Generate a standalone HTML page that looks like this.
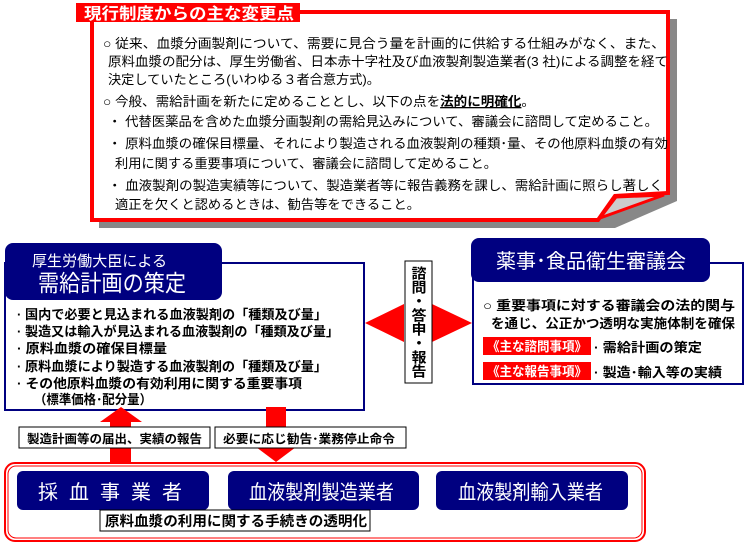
<!DOCTYPE html>
<html><head><meta charset="utf-8"><style>
body{margin:0;background:#fff}
svg text{font-family:"Liberation Sans","Noto Sans CJK JP",sans-serif}
</style></head><body>
<svg width="745" height="546" viewBox="0 0 745 546" xmlns="http://www.w3.org/2000/svg">
<polygon points="99,19 677,19 677,201 615,228 99,228" fill="#888"/>
<polygon points="92,12 668,12 668,193 615,196 598,220 92,220" fill="#fff" stroke="#f00" stroke-width="4"/>
<polygon points="600,218 616,197 664,195" fill="#ccc" stroke="#f00" stroke-width="3"/>
<rect x="76" y="3" width="224" height="19" fill="#f00"/>
<text x="84" y="19" font-size="16" font-weight="bold" fill="#fff" textLength="210" lengthAdjust="spacingAndGlyphs">現行制度からの主な変更点</text>
<g font-size="13" fill="#000">
<text x="103" y="48" textLength="562" lengthAdjust="spacingAndGlyphs">○ 従来、血漿分画製剤について、需要に見合う量を計画的に供給する仕組みがなく、また、</text>
<text x="108" y="66" textLength="560" lengthAdjust="spacingAndGlyphs">原料血漿の配分は、厚生労働省、日本赤十字社及び血液製剤製造業者(3 社)による調整を経て</text>
<text x="108" y="84" textLength="272" lengthAdjust="spacingAndGlyphs">決定していたところ(いわゆる３者合意方式)。</text>
<text x="103" y="106" textLength="432" lengthAdjust="spacingAndGlyphs">○ 今般、需給計画を新たに定めることとし、以下の点を<tspan font-weight="bold" text-decoration="underline">法的に明確化</tspan>。</text>
<text x="108" y="126" textLength="550" lengthAdjust="spacingAndGlyphs">・ 代替医薬品を含めた血漿分画製剤の需給見込みについて、審議会に諮問して定めること。</text>
<text x="108" y="148" textLength="560" lengthAdjust="spacingAndGlyphs">・ 原料血漿の確保目標量、それにより製造される血液製剤の種類･量、その他原料血漿の有効</text>
<text x="115" y="168" textLength="382" lengthAdjust="spacingAndGlyphs">利用に関する重要事項について、審議会に諮問して定めること。</text>
<text x="108" y="190" textLength="555" lengthAdjust="spacingAndGlyphs">・ 血液製剤の製造実績等について、製造業者等に報告義務を課し、需給計画に照らし著しく</text>
<text x="115" y="209" textLength="305" lengthAdjust="spacingAndGlyphs">適正を欠くと認めるときは、勧告等をできること。</text>
</g>
<rect x="5" y="263" width="359" height="147" fill="#fff" stroke="#000080" stroke-width="2"/>
<rect x="5" y="243" width="217" height="57" rx="8" fill="#000080"/>
<text x="32" y="266" font-size="15" fill="#fff" textLength="135" lengthAdjust="spacingAndGlyphs">厚生労働大臣による</text>
<text x="38" y="291" font-size="23" fill="#fff" textLength="148" lengthAdjust="spacingAndGlyphs">需給計画の策定</text>
<g font-size="13" font-weight="bold" fill="#000">
<text x="17" y="319" textLength="310" lengthAdjust="spacingAndGlyphs">· 国内で必要と見込まれる血液製剤の「種類及び量」</text>
<text x="17" y="336" textLength="322" lengthAdjust="spacingAndGlyphs">· 製造又は輸入が見込まれる血液製剤の「種類及び量」</text>
<text x="17" y="353" textLength="150" lengthAdjust="spacingAndGlyphs">· 原料血漿の確保目標量</text>
<text x="17" y="371" textLength="310" lengthAdjust="spacingAndGlyphs">· 原料血漿により製造する血液製剤の「種類及び量」</text>
<text x="17" y="388" textLength="285" lengthAdjust="spacingAndGlyphs">· その他原料血漿の有効利用に関する重要事項</text>
<text x="34" y="404" textLength="118" lengthAdjust="spacingAndGlyphs">（標準価格･配分量）</text>
</g>
<polygon points="365,323 404,304 404,342" fill="#f00"/>
<polygon points="472,323 432,304 432,342" fill="#f00"/>
<rect x="405" y="261" width="27" height="122" fill="#fff" stroke="#000" stroke-width="1"/>
<text x="418" y="266" font-size="15" font-weight="bold" writing-mode="tb" glyph-orientation-vertical="0" fill="#000" textLength="112" lengthAdjust="spacingAndGlyphs">諮問・答申・報告</text>
<rect x="473" y="263" width="270" height="121" fill="#fff" stroke="#000080" stroke-width="2"/>
<rect x="471" y="238" width="239" height="44" rx="8" fill="#000080"/>
<text x="496" y="268" font-size="20" fill="#fff" textLength="190" lengthAdjust="spacingAndGlyphs">薬事･食品衛生審議会</text>
<g font-size="13" font-weight="bold" fill="#000">
<text x="483" y="310" textLength="252" lengthAdjust="spacingAndGlyphs">○ 重要事項に対する審議会の法的関与</text>
<text x="491" y="328" textLength="244" lengthAdjust="spacingAndGlyphs">を通じ、公正かつ透明な実施体制を確保</text>
<rect x="483" y="337" width="108" height="18" fill="#f00"/>
<text x="487" y="351" fill="#fff" textLength="100" lengthAdjust="spacingAndGlyphs">《主な諮問事項》</text>
<text x="594" y="352" textLength="108" lengthAdjust="spacingAndGlyphs">· 需給計画の策定</text>
<rect x="483" y="362" width="108" height="18" fill="#f00"/>
<text x="487" y="376" fill="#fff" textLength="100" lengthAdjust="spacingAndGlyphs">《主な報告事項》</text>
<text x="594" y="377" textLength="128" lengthAdjust="spacingAndGlyphs">· 製造･輸入等の実績</text>
</g>
<polygon points="110,463 131,463 131,422 142,422 121,407 100,422 110,422" fill="#f00"/>
<polygon points="266,407 286,407 286,447 296,447 276,462 256,447 266,447" fill="#f00"/>
<rect x="19" y="427" width="191" height="21" fill="#fff" stroke="#000"/>
<text x="27" y="443" font-size="12" font-weight="bold" textLength="175" lengthAdjust="spacingAndGlyphs">製造計画等の届出、実績の報告</text>
<rect x="215" y="427" width="191" height="21" fill="#fff" stroke="#000"/>
<text x="223" y="443" font-size="12" font-weight="bold" textLength="172" lengthAdjust="spacingAndGlyphs">必要に応じ勧告･業務停止命令</text>
<rect x="5" y="463" width="640" height="78" rx="10" fill="#fff" stroke="#f00" stroke-width="2"/>
<rect x="8" y="466" width="634" height="72" rx="8" fill="none" stroke="#f00" stroke-width="1"/>
<rect x="17" y="471" width="192" height="39" rx="6" fill="#000080"/>
<rect x="228" y="471" width="191" height="39" rx="6" fill="#000080"/>
<rect x="436" y="471" width="192" height="39" rx="6" fill="#000080"/>
<text x="38" y="499" font-size="20" fill="#fff" letter-spacing="11">採血事業者</text>
<text x="249" y="499" font-size="20" fill="#fff" textLength="145" lengthAdjust="spacingAndGlyphs">血液製剤製造業者</text>
<text x="458" y="499" font-size="20" fill="#fff" textLength="145" lengthAdjust="spacingAndGlyphs">血液製剤輸入業者</text>
<rect x="100" y="510" width="270" height="21" fill="#fff" stroke="#000"/>
<text x="105" y="526" font-size="14" font-weight="bold" textLength="262" lengthAdjust="spacingAndGlyphs">原料血漿の利用に関する手続きの透明化</text>
</svg>
</body></html>
